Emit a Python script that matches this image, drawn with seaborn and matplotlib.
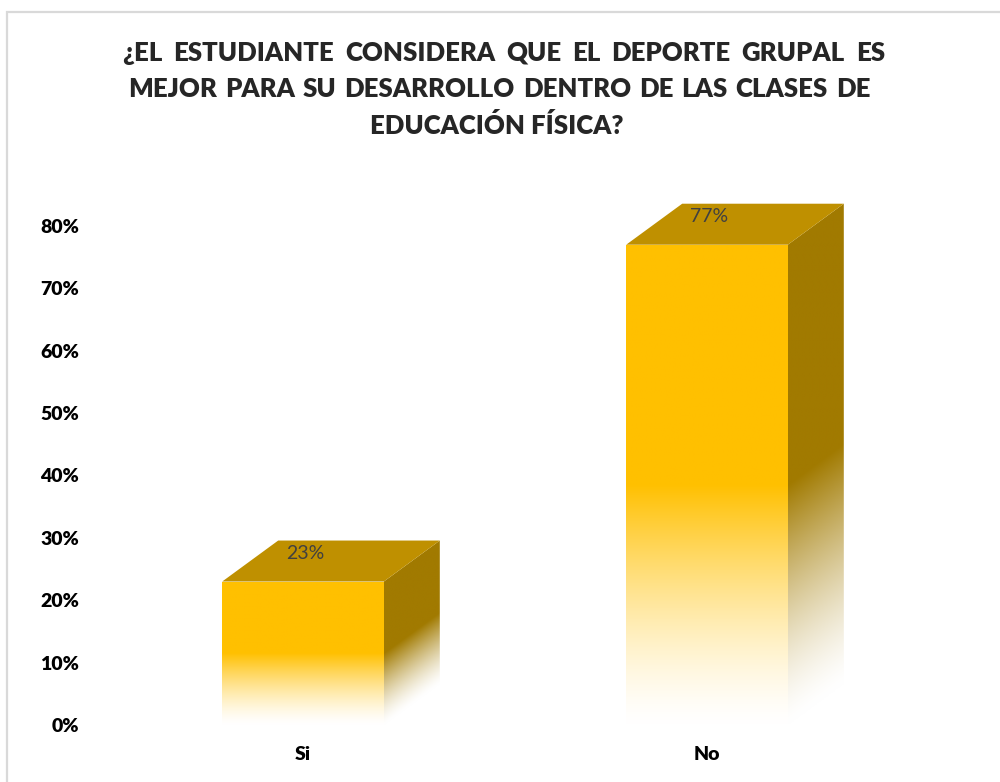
import numpy as np
import pandas as pd
import seaborn as sns
import matplotlib.pyplot as plt
from matplotlib.patches import Polygon, Rectangle
from matplotlib.colors import to_rgb
from matplotlib.ticker import PercentFormatter

# datos
categorias = ["Si", "No"]
porcentajes = [0.23, 0.77]
etiquetas = ["23%", "77%"]
titulo_lineas = [
    "¿EL ESTUDIANTE CONSIDERA QUE EL DEPORTE GRUPAL ES",
    "MEJOR PARA SU DESARROLLO DENTRO DE LAS CLASES DE",
    "EDUCACIÓN FÍSICA?",
]

color_frente = "#FFC000"
color_tapa = "#BF9000"
color_lado = "#A17A00"

sns.set_theme(style="white")
plt.rcParams['font.family'] = ['Lato', 'DejaVu Sans']
PESO = "heavy"

W, H = 1000, 782
fig = plt.figure(figsize=(10, 7.82), dpi=100)
fig.patch.set_facecolor("white")

# ejes: 0% en y=725px, 80% en y=226px; Si centrado en x=303px, No en x=707px
px_izq, px_der = 90, 960
ax = fig.add_axes([px_izq / W, 1 - 725 / H, (px_der - px_izq) / W, (725 - 195) / H])
ppu_y = (725 - 226) / 0.8
ppu_x = 707 - 303
xmin = -(303 - px_izq) / ppu_x
xmax = 1 + (px_der - 707) / ppu_x
ymax = (725 - 195) / ppu_y

df = pd.DataFrame({"respuesta": categorias, "valor": porcentajes})
sns.barplot(data=df, x="respuesta", y="valor", order=categorias,
            color=color_frente, width=0.4, ax=ax, saturation=1)

dx = 56 / ppu_x
dy = 41 / ppu_y


def mezcla(col, s):
    c = np.array(to_rgb(col))
    return np.ones(3) * (1 - s[..., None]) + c * s[..., None]


def intensidad(t):
    return np.clip(t / 0.5, 0, 1) ** 1.4


for patch, v, etq in zip(ax.patches, porcentajes, etiquetas):
    xl = patch.get_x()
    xr = xl + patch.get_width()
    patch.set_facecolor("none")
    patch.set_edgecolor("none")

    # cara frontal con degradado
    yy = np.linspace(0, v, 300)
    s = intensidad(yy / v)
    img = mezcla(color_frente, s)[:, None, :].repeat(2, axis=1)
    im = ax.imshow(img, extent=[xl, xr, 0, v], origin="lower",
                   aspect="auto", zorder=2, interpolation="bilinear")
    im.set_clip_path(patch)

    # cara lateral
    lado = Polygon([(xr, 0), (xr + dx, dy), (xr + dx, v + dy), (xr, v)],
                   closed=True, facecolor="none", edgecolor="none",
                   transform=ax.transData)
    ax.add_patch(lado)
    gx, gy = np.meshgrid(np.linspace(xr, xr + dx, 80),
                         np.linspace(0, v + dy, 400))
    alto = gy - dy * (gx - xr) / dx
    s2 = intensidad(alto / v)
    img2 = mezcla(color_lado, s2)
    im2 = ax.imshow(img2, extent=[xr, xr + dx, 0, v + dy], origin="lower",
                    aspect="auto", zorder=2, interpolation="bilinear")
    im2.set_clip_path(lado)

    # cara superior
    tapa = Polygon([(xl, v), (xl + dx, v + dy), (xr + dx, v + dy), (xr, v)],
                   closed=True, facecolor=color_tapa, edgecolor="none",
                   zorder=3)
    ax.add_patch(tapa)

    ax.text((xl + xr) / 2 + 0.005, v + 0.045, etq, ha="center", va="center",
            color="#404040", fontsize=14, zorder=4)

ax.set_autoscale_on(False)
ax.set_xlim(xmin, xmax)
ax.set_ylim(0, ymax)
ax.set_yticks(np.arange(0, 0.81, 0.1))
ax.yaxis.set_major_formatter(PercentFormatter(1.0, decimals=0))
ax.set_xlabel("")
ax.set_ylabel("")
ax.tick_params(axis="y", length=0, pad=8, labelsize=14)
ax.tick_params(axis="x", length=0, pad=15, labelsize=14)
for lab in ax.get_xticklabels() + ax.get_yticklabels():
    lab.set_fontweight(PESO)
    lab.set_color("black")
sns.despine(ax=ax, left=True, bottom=True)
ax.grid(False)
ax.set_facecolor("none")

# borde del área del gráfico
borde = Rectangle((7 / W, -0.1), 1.2, 1.1 - 12 / H, transform=fig.transFigure,
                  fill=False, edgecolor="#D9D9D9", linewidth=1.6, clip_on=False)
fig.add_artist(borde)

# título justificado
fig.canvas.draw()
renderer = fig.canvas.get_renderer()
y_lineas = [53, 89, 125]
margenes = [(122, 885), (128, 870)]
for i, linea in enumerate(titulo_lineas):
    yf = 1 - y_lineas[i] / H
    if i < len(margenes):
        palabras = linea.split(" ")
        textos = [fig.text(0, yf, p, fontsize=18.5, fontweight=PESO,
                           ha="left", va="center") for p in palabras]
        anchos = [t.get_window_extent(renderer).width for t in textos]
        x0, x1 = margenes[i]
        hueco = (x1 - x0 - sum(anchos)) / (len(palabras) - 1)
        x = x0
        for t, a in zip(textos, anchos):
            t.set_x(x / W)
            x += a + hueco
    else:
        fig.text(0.497, yf, linea, fontsize=18.5, fontweight=PESO,
                 ha="center", va="center")

fig.savefig("out.png", dpi=100)
